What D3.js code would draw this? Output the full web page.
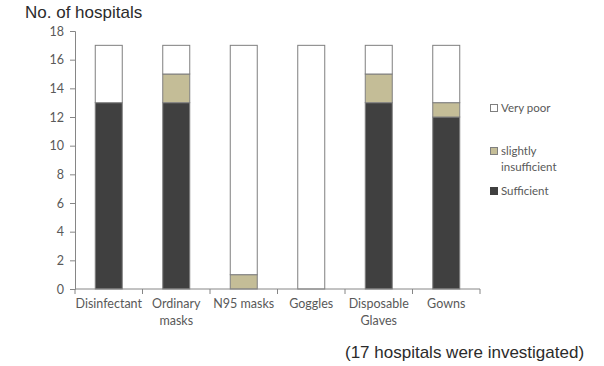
<!DOCTYPE html>
<html>
<head>
<meta charset="utf-8">
<script src="https://cdn.jsdelivr.net/npm/d3@7"></script>
<style>
  html, body { margin: 0; padding: 0; background: #fff; }
  svg { display: block; }
</style>
</head>
<body>
<svg id="chart" width="604" height="366"></svg>
<script>
// Protective supply status across surveyed hospitals
const categories = ["Disinfectant", "Ordinary masks", "N95 masks", "Goggles", "Disposable Glaves", "Gowns"];
const categoryLines = [["Disinfectant"], ["Ordinary", "masks"], ["N95 masks"], ["Goggles"], ["Disposable", "Glaves"], ["Gowns"]];
const sufficient = [13, 13, 0, 0, 13, 12];
const slightlyInsufficient = [0, 2, 1, 0, 2, 1];
const veryPoor = [4, 2, 16, 17, 2, 4];
const seriesNames = ["Sufficient", "slightly insufficient", "Very poor"];
const yTicks = [0, 2, 4, 6, 8, 10, 12, 14, 16, 18];

const colors = { "Sufficient": "#404040", "slightly insufficient": "#c4bd97", "Very poor": "#ffffff" };
const labelFont = "Lato, 'Open Sans', sans-serif";
const textGray = "#595959";
const axisGray = "#868686";

const svg = d3.select("#chart");
const margin = { left: 75, right: 124, top: 31, bottom: 77 };
const W = 604, H = 366;

const x = d3.scaleBand().domain(categories).range([margin.left, W - margin.right]).paddingInner(0.6).paddingOuter(0.3);
const y = d3.scaleLinear().domain([0, 18]).range([H - margin.bottom, margin.top]);

const rows = categories.map((c, i) => ({
  category: c,
  "Sufficient": sufficient[i],
  "slightly insufficient": slightlyInsufficient[i],
  "Very poor": veryPoor[i]
}));
const stacked = d3.stack().keys(seriesNames)(rows);

// Stacked bars
svg.append("g").selectAll("g").data(stacked).join("g")
  .attr("fill", d => colors[d.key])
  .selectAll("rect").data(d => d.filter(p => p[1] - p[0] > 0)).join("rect")
  .attr("x", d => x(d.data.category))
  .attr("width", x.bandwidth())
  .attr("y", d => y(d[1]))
  .attr("height", d => y(d[0]) - y(d[1]))
  .attr("stroke", "#7f7f7f")
  .attr("stroke-width", 1);

// Y axis
const yAxis = svg.append("g").attr("transform", `translate(${margin.left},0)`)
  .call(d3.axisLeft(y).tickValues(yTicks).tickSize(5).tickPadding(6));
yAxis.select(".domain").attr("stroke", axisGray);
yAxis.selectAll(".tick line").attr("stroke", axisGray);
yAxis.selectAll(".tick text").attr("fill", textGray).attr("font-family", labelFont).attr("font-size", 12.5);

// X axis with ticks on category boundaries
const xLine = y(0);
const boundaryX = d3.range(categories.length + 1).map(i => margin.left + i * x.step());
const xg = svg.append("g");
xg.append("line").attr("x1", margin.left).attr("x2", W - margin.right)
  .attr("y1", xLine).attr("y2", xLine).attr("stroke", axisGray);
xg.selectAll("line.tick").data(boundaryX).join("line").attr("class", "tick")
  .attr("x1", d => d).attr("x2", d => d).attr("y1", xLine).attr("y2", xLine + 5).attr("stroke", axisGray);

categories.forEach((c, i) => {
  const cx = x(c) + x.bandwidth() / 2;
  const t = xg.append("text")
    .attr("x", cx)
    .attr("y", xLine + 19)
    .attr("text-anchor", "middle")
    .attr("fill", textGray)
    .attr("font-family", labelFont)
    .attr("font-size", 12.5);
  categoryLines[i].forEach((line, j) => {
    t.append("tspan").attr("x", cx).attr("dy", j === 0 ? 0 : 17).text(line);
  });
});

// Axis title
svg.append("text").attr("x", 25).attr("y", 18)
  .attr("font-family", "'Liberation Sans', Arial, sans-serif").attr("font-size", 17)
  .attr("fill", "#2b2b2b").text("No. of hospitals");

// Legend
const legendItems = [
  { key: "Very poor", lines: ["Very poor"], y: 103 },
  { key: "slightly insufficient", lines: ["slightly", "insufficient"], y: 146 },
  { key: "Sufficient", lines: ["Sufficient"], y: 186 }
];
const lg = svg.append("g");
legendItems.forEach(item => {
  lg.append("rect").attr("x", 490.5).attr("y", item.y + 1.5).attr("width", 7).attr("height", 7)
    .attr("fill", colors[item.key]).attr("stroke", item.key === "Sufficient" ? "#404040" : "#7f7f7f");
  const t = lg.append("text").attr("x", 501).attr("y", item.y + 8.5)
    .attr("fill", textGray).attr("font-family", labelFont).attr("font-size", 11.5);
  item.lines.forEach((line, j) => t.append("tspan").attr("x", 501).attr("dy", j === 0 ? 0 : 16).text(line));
});

// Footnote
svg.append("text").attr("x", 345).attr("y", 358)
  .attr("font-family", "'Liberation Sans', Arial, sans-serif").attr("font-size", 17)
  .attr("fill", "#2b2b2b").text("(17 hospitals were investigated)");
</script>
</body>
</html>
